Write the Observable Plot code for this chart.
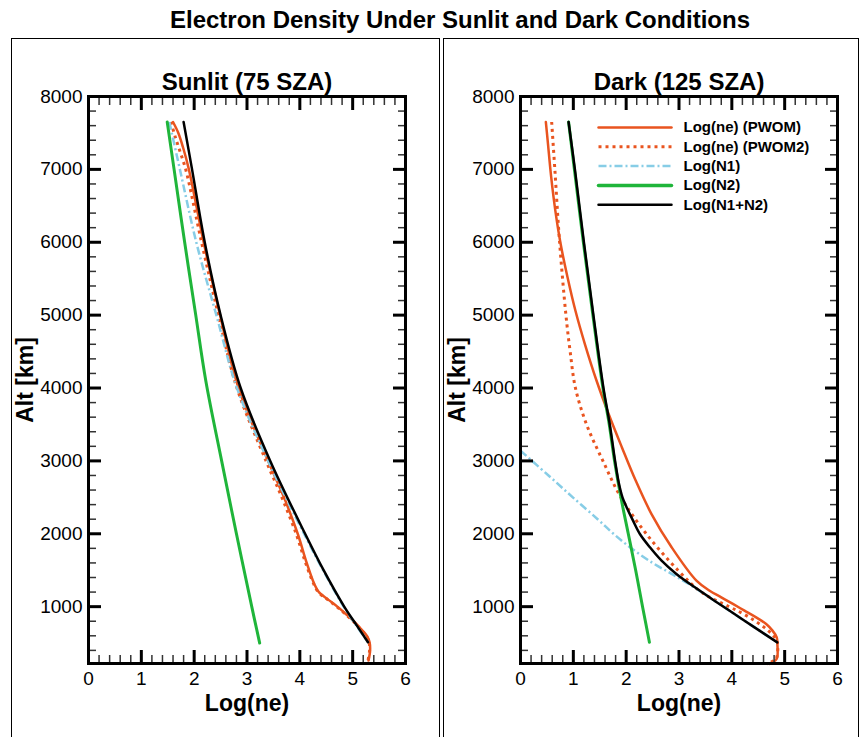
<!DOCTYPE html>
<html>
<head>
<meta charset="utf-8">
<script src="https://cdn.jsdelivr.net/npm/d3@7"></script>
<script src="https://cdn.jsdelivr.net/npm/@observablehq/plot@0.6"></script>
<style>
  body { margin: 0; background: #fff; }
  #root { position: relative; width: 860px; height: 737px; overflow: hidden; background: #fff;
          font-family: "Liberation Sans", Arial, Helvetica, sans-serif; }
  #title { position: absolute; left: 460px; top: 8px; transform: translateX(-50%); white-space: nowrap;
           font-size: 24px; line-height: 24px; font-weight: bold; color: #000; }
  .box { position: absolute; top: 38px; height: 760px; box-sizing: border-box;
         border: 1px solid #000; border-bottom: none; }
  .panel { position: absolute; top: 38px; }
</style>
</head>
<body>
<div id="root">
  <div id="title">Electron Density Under Sunlit and Dark Conditions</div>
  <div class="box" style="left:11px;width:429px;"></div>
  <div class="box" style="left:443px;width:416px;"></div>
  <div class="panel" id="left"></div>
  <div class="panel" id="right"></div>
</div>
<script>
// ---------- Data ----------
// Sunlit (75 SZA)
const sunPwomAlt  = [7650, 7500, 7300, 7000, 6000, 5000, 4000, 3000, 2500, 2000, 1600, 1300, 1200, 1100, 1000, 900, 800, 700, 600, 512, 400, 260];
const sunPwomNe   = [1.60, 1.70, 1.79, 1.90, 2.18, 2.49, 2.84, 3.40, 3.70, 3.96, 4.13, 4.28, 4.36, 4.53, 4.71, 4.87, 5.02, 5.15, 5.27, 5.32, 5.33, 5.30];
const sunPwom2Alt = [7650, 7450, 7250, 7000, 6000, 5000, 4000, 3000, 2500, 2000, 1600, 1300, 1200, 1100, 1000, 900, 800, 700, 600, 512, 400, 260];
const sunPwom2Ne  = [1.56, 1.64, 1.73, 1.84, 2.14, 2.46, 2.81, 3.36, 3.66, 3.93, 4.11, 4.27, 4.35, 4.52, 4.70, 4.86, 5.01, 5.14, 5.26, 5.31, 5.32, 5.29];
const sunN1Alt    = [7650, 7000, 6000, 5000, 4000, 3000, 2000, 1500, 1000, 750, 512];
const sunN1Ne     = [1.53, 1.73, 2.04, 2.42, 2.81, 3.40, 4.08, 4.44, 4.83, 5.06, 5.29];
const sunN2Alt    = [7650, 7000, 6000, 5000, 4100, 3000, 2000, 1000, 500];
const sunN2Ne     = [1.49, 1.62, 1.82, 2.03, 2.22, 2.52, 2.80, 3.09, 3.24];
const sunSumAlt   = [7650, 7000, 6000, 5000, 4000, 3000, 2000, 1500, 1000, 750, 512];
const sunSumNe    = [1.80, 1.96, 2.20, 2.50, 2.88, 3.44, 4.10, 4.45, 4.84, 5.07, 5.29];

// Dark (125 SZA)
const darkPwomAlt  = [7650, 7350, 6900, 6430, 5975, 5520, 5060, 4600, 4100, 3640, 3185, 2730, 2270, 1815, 1357, 1219, 1128, 1037, 945, 853, 762, 671, 579, 512, 305, 260, 214];
const darkPwomNe   = [0.48, 0.52, 0.58, 0.66, 0.76, 0.89, 1.04, 1.22, 1.44, 1.67, 1.92, 2.18, 2.48, 2.86, 3.33, 3.58, 3.80, 4.02, 4.24, 4.46, 4.65, 4.77, 4.85, 4.86, 4.86, 4.82, 4.71];
const darkPwom2Alt = [7650, 7000, 6000, 5000, 4500, 4000, 3500, 3000, 2500, 2000, 1500, 1200, 1000, 900, 800, 700, 600, 512, 305, 260, 214];
const darkPwom2Ne  = [0.59, 0.65, 0.74, 0.86, 0.94, 1.04, 1.25, 1.56, 1.90, 2.38, 2.98, 3.42, 3.95, 4.22, 4.45, 4.64, 4.79, 4.86, 4.85, 4.80, 4.66];
const darkN1Alt    = [3140, 2800, 2500, 2200, 2000, 1800, 1600, 1450, 1300, 1082, 899, 716, 510];
const darkN1Ne     = [0.00, 0.53, 0.99, 1.46, 1.76, 2.10, 2.50, 2.86, 3.21, 3.67, 4.05, 4.43, 4.86];
const darkN2Alt    = [7650, 7000, 6000, 5000, 4000, 3500, 3000, 2500, 2000, 1500, 1000, 512];
const darkN2Ne     = [0.91, 1.02, 1.19, 1.37, 1.56, 1.68, 1.78, 1.90, 2.04, 2.18, 2.31, 2.44];
const darkSumAlt   = [7650, 7000, 6000, 5000, 4000, 3500, 3000, 2700, 2500, 2362, 2180, 1997, 1814, 1631, 1449, 1265, 1082, 899, 716, 510];
const darkSumNe    = [0.91, 1.03, 1.20, 1.38, 1.57, 1.69, 1.79, 1.86, 1.93, 2.01, 2.13, 2.26, 2.45, 2.67, 2.95, 3.30, 3.67, 4.05, 4.43, 4.86];

const seriesNames = ["Log(ne) (PWOM)", "Log(ne) (PWOM2)", "Log(N1)", "Log(N2)", "Log(N1+N2)"];
const panelTitles = ["Sunlit (75 SZA)", "Dark (125 SZA)"];
const xTicks = [0, 1, 2, 3, 4, 5, 6];
const yTicks = [1000, 2000, 3000, 4000, 5000, 6000, 7000, 8000];

// ---------- Styling ----------
const FONT = '"Liberation Sans", Arial, Helvetica, sans-serif';
const ORANGE = "#e9541f", CYAN = "#87cde6", GREEN = "#1fb53a", BLACK = "#000";
const styles = [
  {stroke: ORANGE, strokeWidth: 2.5},
  {stroke: ORANGE, strokeWidth: 3, strokeDasharray: "3,4", strokeLinecap: "butt"},
  {stroke: CYAN, strokeWidth: 2.5, strokeDasharray: "8,3,2,3", strokeLinecap: "butt"},
  {stroke: GREEN, strokeWidth: 3},
  {stroke: BLACK, strokeWidth: 2.5}
];
const xMinor = d3.range(0, 6.001, 0.2).map(v => +v.toFixed(1)).filter(v => !xTicks.includes(v));
const yMinor = d3.range(400, 8000, 200).filter(v => v % 1000 !== 0);

const zip = (alt, ne) => alt.map((a, i) => ({alt: a, ne: ne[i]}));
const lineShape = {draw(ctx, l) { ctx.moveTo(0, 0); ctx.lineTo(0, -l); }};

function panel({title, series, width, marginRight, legend}) {
  const marks = [];
  series.forEach((s, i) => {
    marks.push(Plot.line(zip(s[0], s[1]), {x: "ne", y: "alt", curve: "catmull-rom", ...styles[i]}));
  });
  // inward ticks on all four sides
  for (const a of ["bottom", "top"]) {
    marks.push(Plot.axisX({anchor: a, ticks: xMinor, tickSize: -8, strokeWidth: 1.5, stroke: "#333", fill: "none", label: null}));
    marks.push(Plot.axisX({anchor: a, ticks: xTicks, tickSize: -13, strokeWidth: 3, fill: "none", label: null}));
  }
  for (const a of ["left", "right"]) {
    marks.push(Plot.axisY({anchor: a, ticks: yMinor, tickSize: -8, strokeWidth: 1.5, stroke: "#333", fill: "none", label: null}));
    marks.push(Plot.axisY({anchor: a, ticks: yTicks, tickSize: -13, strokeWidth: 3, fill: "none", label: null}));
  }
  marks.push(Plot.axisX({anchor: "bottom", ticks: xTicks, tickSize: 0, tickPadding: 8, label: null, fontSize: 19, tickFormat: d => String(d)}));
  marks.push(Plot.axisY({anchor: "left", ticks: yTicks, tickSize: 0, tickPadding: 6, label: null, fontSize: 19, tickFormat: d => String(d)}));
  marks.push(Plot.frame({strokeWidth: 3}));
  marks.push(Plot.text([title], {frameAnchor: "top", dy: -14, lineAnchor: "middle", textAnchor: "middle", fontSize: 24, fontWeight: "bold"}));
  marks.push(Plot.text(["Log(ne)"], {frameAnchor: "bottom", dy: 40, lineAnchor: "middle", textAnchor: "middle", fontSize: 23, fontWeight: "bold"}));
  marks.push(Plot.text(["Alt [km]"], {frameAnchor: "left", dx: -63, rotate: -90, lineAnchor: "middle", textAnchor: "middle", fontSize: 23, fontWeight: "bold"}));
  if (legend) {
    seriesNames.forEach((name, i) => {
      const dy = 31 + i * 19.3;
      marks.push(Plot.vector([name], {frameAnchor: "top-left", dx: 78, dy, length: 73, rotate: 90, anchor: "start",
        shape: lineShape, ...styles[i], strokeWidth: i === 3 ? 3.5 : styles[i].strokeWidth}));
      marks.push(Plot.text([name], {frameAnchor: "top-left", dx: 163, dy, lineAnchor: "middle", textAnchor: "start", fontSize: 15, fontWeight: "bold"}));
    });
  }
  return Plot.plot({
    width, height: 699,
    marginLeft: 77, marginRight, marginTop: 58, marginBottom: 74,
    x: {domain: [0, 6]},
    y: {domain: [220, 8000]},
    style: {fontFamily: FONT, fontSize: "19px", color: "#000", background: "transparent", overflow: "visible"},
    marks
  });
}

const left = panel({
  title: panelTitles[0], width: 428, marginRight: 34, legend: false,
  series: [[sunPwomAlt, sunPwomNe], [sunPwom2Alt, sunPwom2Ne], [sunN1Alt, sunN1Ne], [sunN2Alt, sunN2Ne], [sunSumAlt, sunSumNe]]
});
const right = panel({
  title: panelTitles[1], width: 415, marginRight: 21, legend: true,
  series: [[darkPwomAlt, darkPwomNe], [darkPwom2Alt, darkPwom2Ne], [darkN1Alt, darkN1Ne], [darkN2Alt, darkN2Ne], [darkSumAlt, darkSumNe]]
});
const le = document.getElementById("left"); le.style.left = "11px"; le.appendChild(left);
const re = document.getElementById("right"); re.style.left = "443px"; re.appendChild(right);
</script>
</body>
</html>
